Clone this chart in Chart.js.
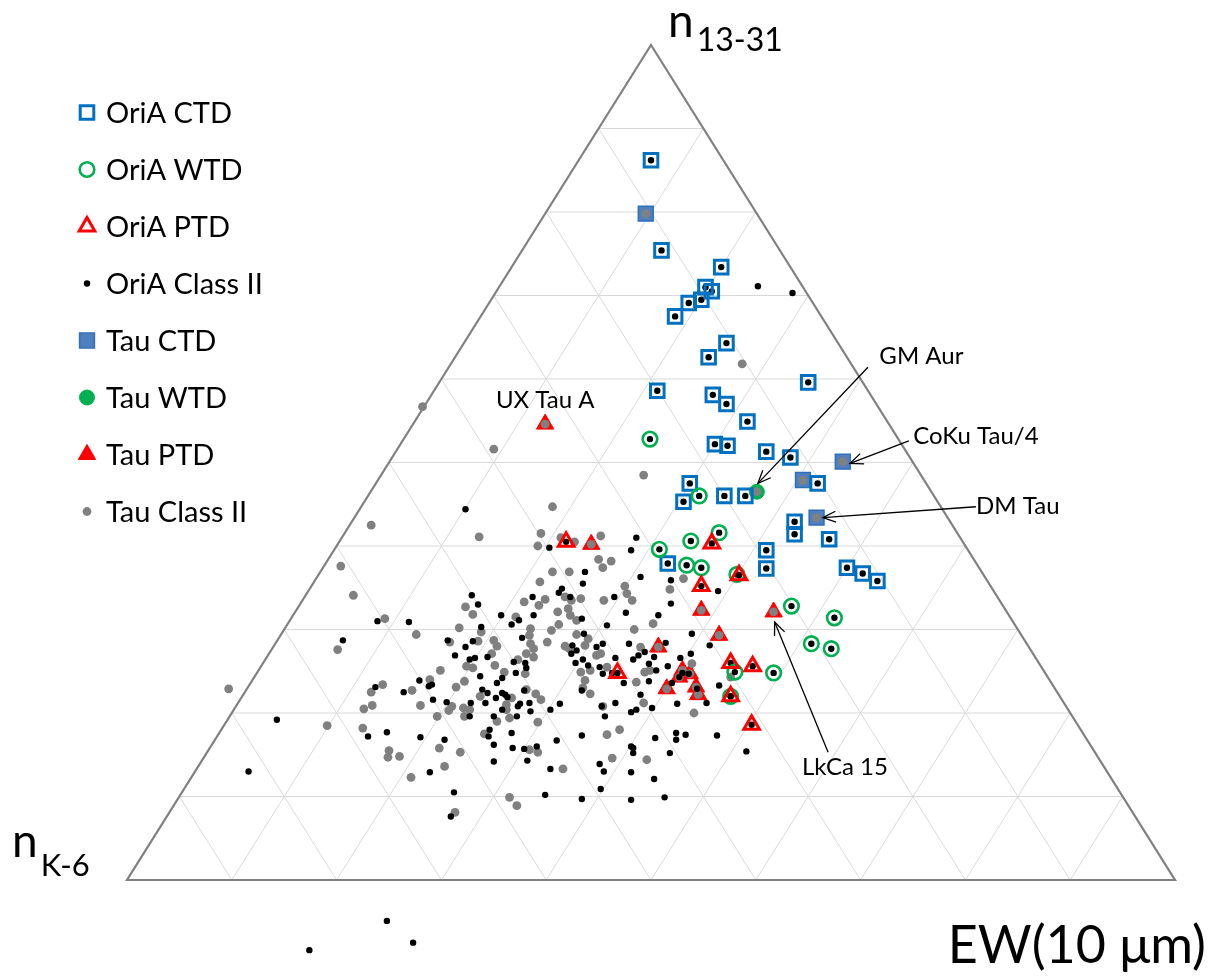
<!DOCTYPE html>
<html><head><meta charset="utf-8">
<script src="https://cdn.jsdelivr.net/npm/chart.js@4/dist/chart.umd.min.js"></script>
<style>html,body{margin:0;padding:0;background:#fff}canvas{display:block}</style>
</head><body>
<canvas id="c" width="1218" height="976"></canvas>
<script>
// ---- data: plot coordinates in % (x along the EW base 0..100, y = n13-31 height 0..100) ----
const categories = ['OriA CTD','OriA WTD','OriA PTD','OriA Class II','Tau CTD','Tau WTD','Tau PTD','Tau Class II'];

const oriaCTD = [[50.0,86.2],[51.0,75.4],[56.7,73.4],[55.2,71.0],[55.8,70.5],[54.8,69.5],[53.6,69.1],[52.3,67.5],[57.2,64.3],[55.5,62.6],[65.0,59.6],[50.6,58.6],[55.9,58.1],[57.2,57.0],[59.2,54.9],[56.1,52.2],[57.3,52.0],[61.0,51.3],[63.3,50.6],[65.9,47.5],[53.7,47.5],[53.1,45.3],[57.0,46.0],[59.0,46.0],[63.7,42.9],[63.7,41.4],[67.0,40.8],[61.0,39.5],[51.6,37.9],[61.0,37.3],[68.7,37.4],[70.2,36.7],[71.6,35.8]];

const oriaWTD = [[49.9,52.8],[54.6,46.0],[56.5,41.6],[53.8,40.6],[50.8,39.6],[53.4,37.7],[54.8,37.4],[58.2,36.6],[63.4,32.8],[67.5,31.4],[65.3,28.3],[67.2,27.7],[58.0,24.9],[61.7,24.8],[57.6,22.0]];

const oriaPTD = [[41.9,40.5],[55.8,40.3],[58.4,36.5],[54.8,35.2],[57.6,26.0],[59.7,25.6],[57.6,22.0],[59.6,18.6],[46.8,24.8]];

const oriaClassII = [[60.2,71.1],[63.5,70.3],[32.3,44.4],[23.9,31.0],[26.9,30.9],[20.6,28.7],[14.3,19.2],[11.6,13.0],[23.7,23.1],[26.4,22.5],[27.9,23.9],[28.8,23.2],[23.0,17.2],[24.8,17.7],[28.0,17.1],[28.9,12.9],[24.8,-4.9],[27.3,-7.5],[17.4,-8.4],
[40.3,39.8],[48.6,41.0],[48.1,39.5],[49.0,36.3],[43.7,36.9],[43.5,35.5],[41.5,34.9],[41.2,34.4],[42.3,33.9],[38.7,33.9],[46.5,33.9],[38.8,31.7],[47.6,32.0],[43.4,31.3],[45.8,30.5],[50.7,31.7],[32.9,34.1],[33.5,33.0],[35.7,31.7],[37.4,31.1],[36.7,30.6],[33.8,30.3],[37.7,29.0],[43.6,29.5],[30.6,28.7],[33.0,28.6],[32.3,27.9],[34.4,26.7],[42.5,28.1],[42.4,27.1],[44.8,27.9],[45.4,28.3],[47.9,28.3],[48.8,26.9],[49.4,27.3],[31.3,26.9],[32.7,26.4],[33.2,26.6],[46.6,26.6],[48.3,26.4],
[33.7,24.4],[36.9,26.1],[38.0,26.0],[38.1,25.4],[37.1,24.8],[35.8,24.2],[35.3,23.6],[29.1,23.4],[29.2,21.6],[30.5,21.3],[32.7,19.6],[32.8,21.2],[33.9,22.8],[34.4,22.4],[34.2,21.2],[35.2,21.8],[35.8,22.4],[36.1,22.2],[36.3,21.9],[37.3,20.8],[37.5,21.1],[35.8,20.4],[37.2,19.6],[35.0,19.6],[37.9,22.7],[38.4,21.2],[38.5,20.2],[40.4,20.4],[41.3,21.1],[34.6,18.0],[34.5,17.2],[36.7,17.6],[35.0,16.2],[36.8,15.8],[37.9,15.7],[39.1,16.0],[38.2,14.3],[35.0,14.2],[41.0,16.7],[40.4,13.3],[30.3,16.8],[31.2,10.5],[30.9,7.6],[39.9,10.2],[43.4,9.7],[45.2,10.9],[48.1,9.6],[51.3,9.9],
[42.9,27.5],[43.5,26.4],[44.0,25.7],[42.8,26.0],[45.1,25.5],[45.4,24.7],[46.3,24.8],[47.4,23.6],[50.5,25.1],[49.8,23.8],[51.6,25.6],[50.3,26.7],[52.0,23.6],[43.4,22.7],[49.0,22.2],[48.6,20.4],[48.1,20.1],[50.1,20.6],[45.3,20.8],[46.6,21.2],[45.6,19.6],[43.4,17.3],[48.1,16.0],[48.3,15.8],[48.3,15.2],[50.4,17.0],[45.1,13.9],[45.5,13.0],[48.1,12.9],[50.3,12.1],[51.8,15.2],[52.4,17.6],[52.4,16.8],[52.5,21.1],[55.3,21.2],[59.1,15.4],[56.3,17.3],[53.3,17.4],[51.9,35.9],[51.9,33.1],[53.9,29.5],[55.6,28.1],[56.4,34.6],[56.5,23.3],[52.8,26.6],[53.8,27.1],[49.8,25.9],[53.0,24.8],[53.6,24.7],[52.7,24.3],[54.4,22.9],[51.4,28.4]];

const tauCTD = [[49.5,79.8],[68.3,50.1],[64.5,47.9],[65.8,43.4]];
const tauWTD = [[60.1,46.5]];
const tauPTD = [[39.9,54.6],[44.3,40.2],[54.8,32.3],[61.7,32.1],[56.5,29.3],[50.7,27.9],[53.0,25.1],[53.7,24.7],[52.7,24.3],[51.5,22.9],[54.3,23.1],[54.5,22.2]];

const tauClassII = [[58.7,61.8],[49.3,48.5],[28.2,56.7],[35.0,51.6],[40.6,44.7],[23.3,42.5],[20.4,37.6],[21.6,34.1],[24.6,31.3],[27.6,29.4],[20.1,27.6],[9.7,22.9],[19.1,18.5],[24.4,23.4],[23.3,22.5],[27.2,22.7],[28.9,24.0],[23.4,20.9],[22.6,20.5],[28.0,20.9],[22.5,18.2],[25.0,15.5],[24.9,14.7],[26.0,14.8],[27.1,12.3],
[33.6,41.1],[39.5,41.5],[39.2,40.0],[41.4,41.0],[42.7,40.5],[45.2,41.2],[45.0,38.4],[45.4,37.4],[46.2,38.2],[40.6,36.9],[42.2,36.9],[39.4,35.7],[47.5,35.2],[41.8,33.9],[42.4,33.5],[43.3,33.7],[39.9,33.6],[37.9,33.3],[39.3,32.9],[45.5,33.5],[47.7,34.3],[48.2,33.5],[42.1,32.5],[41.1,32.1],[42.3,31.7],[42.9,31.1],[41.2,30.6],[48.4,30.0],[50.2,30.7],[32.3,32.7],[33.0,31.8],[37.1,31.5],[31.7,30.2],[33.8,29.7],[38.5,30.1],[38.4,29.3],[40.5,29.9],[42.9,29.4],[44.0,28.9],[40.1,28.5],[38.5,28.3],[38.8,27.7],[35.0,28.7],[35.3,28.0],[30.8,28.5],[33.5,28.6],[34.8,27.1],[41.8,28.0],[42.2,27.7],[45.2,27.1],[43.7,28.1],[49.0,27.9],[37.3,26.4],[38.1,27.1],
[32.4,25.6],[33.0,25.4],[35.1,25.7],[38.8,26.7],[38.0,24.7],[36.0,24.9],[29.9,25.1],[31.4,23.1],[32.2,23.8],[31.0,20.8],[30.7,20.3],[29.6,19.6],[32.1,20.6],[32.2,19.6],[32.7,20.4],[33.7,22.0],[36.7,21.8],[36.2,21.0],[36.2,20.4],[36.5,19.4],[35.3,19.0],[38.1,22.8],[39.0,22.3],[39.5,21.6],[39.2,18.9],[34.1,17.5],[38.4,15.6],[39.2,15.3],[41.6,13.3],[29.8,15.8],[31.8,15.3],[30.3,13.6],[31.3,8.1],[36.5,9.9],[37.2,8.9],[43.3,24.9],[44.2,25.1],[43.7,23.9],[44.8,26.9],[45.8,25.5],[49.4,24.9],[49.9,25.1],[48.6,23.7],[43.5,23.0],[44.2,22.3],[49.3,21.2],[45.4,20.8],[47.0,18.0],[45.8,17.4],[46.3,14.6],[49.6,14.4],[54.1,20.0],[51.8,34.8],[53.1,36.1],[57.6,24.3],[53.9,25.9]];

const gridTicks = [10,20,30,40,50,60,70,80,90];
const axisTitles = {top:['n','13-31'], left:['n','K-6'], right:'EW(10 μm)'};
const annotations = [
  {text:'UX Tau A',   at:[39.9,57.5]},
  {text:'GM Aur',     at:[75.8,62.7], from:[70.7,61.4], to:[60.2,47.5]},
  {text:'CoKu Tau/4', at:[81.0,53.2], from:[74.6,52.6], to:[69.0,49.9]},
  {text:'DM Tau',     at:[85.0,44.7], from:[81.0,44.7], to:[66.4,43.4]},
  {text:'LkCa 15',    at:[68.5,13.5], from:[66.9,15.3], to:[61.8,30.9]}
];

// ---- layout (pixels) ----
const FRAME = {left:127, right:1175, base:880, apex:45, W:1218, H:976};
const pxX = (FRAME.right-FRAME.left)/100, pxY = (FRAME.base-FRAME.apex)/100;
const xMin = -FRAME.left/pxX, xMax = (FRAME.W-FRAME.left)/pxX;
const yMax = FRAME.base/pxY, yMin = -(FRAME.H-FRAME.base)/pxY;
const FONT = 'Lato, "Open Sans", sans-serif';

const styles = {
  'OriA CTD':     {shape:'rect',     r:9.6, fill:'rgba(0,0,0,0)', stroke:'#0070C0', bw:3,   order:2},
  'OriA WTD':     {shape:'circle',   r:7.3, fill:'rgba(0,0,0,0)', stroke:'#00B050', bw:2.6, order:1},
  'OriA PTD':     {shape:'triangle', r:9,   fill:'rgba(0,0,0,0)', stroke:'#FF0000', bw:3,   order:0},
  'OriA Class II':{shape:'circle',   r:3.2, fill:'#000000', stroke:'#000000', bw:0,   order:3},
  'Tau CTD':      {shape:'rect',     r:10.5,fill:'#4F7FBF', stroke:'#2F6FBA', bw:1.5, order:7},
  'Tau WTD':      {shape:'circle',   r:7.5, fill:'#00B050', stroke:'#00B050', bw:1,   order:6},
  'Tau PTD':      {shape:'triangle', r:10,  fill:'#FF0000', stroke:'#FF0000', bw:1,   order:5},
  'Tau Class II': {shape:'circle',   r:4.4, fill:'#808080', stroke:'#808080', bw:0,   order:4}
};
const seriesData = {
  'OriA CTD': oriaCTD, 'OriA WTD': oriaWTD, 'OriA PTD': oriaPTD,
  'OriA Class II': oriaClassII.concat(oriaCTD, oriaWTD, oriaPTD),
  'Tau CTD': tauCTD, 'Tau WTD': tauWTD, 'Tau PTD': tauPTD,
  'Tau Class II': tauClassII.concat(tauCTD, tauWTD, tauPTD)
};

const datasets = categories.map(name => {
  const s = styles[name];
  return {
    label: name,
    data: seriesData[name].map(p => ({x:p[0], y:p[1]})),
    pointStyle: s.shape, pointRadius: s.r, pointHoverRadius: s.r,
    backgroundColor: s.fill, borderColor: s.stroke, borderWidth: s.bw,
    pointBorderWidth: s.bw, order: s.order, clip: false, showLine: false
  };
});

function drawMarker(ctx, s, x, y) {
  ctx.save();
  ctx.beginPath();
  if (s.shape === 'rect') {
    const h = Math.SQRT1_2 * s.r; ctx.rect(x-h, y-h, 2*h, 2*h);
  } else if (s.shape === 'triangle') {
    let a = 0;
    ctx.moveTo(x + Math.sin(a)*s.r, y - Math.cos(a)*s.r);
    a += 2*Math.PI/3; ctx.lineTo(x + Math.sin(a)*s.r, y - Math.cos(a)*s.r);
    a += 2*Math.PI/3; ctx.lineTo(x + Math.sin(a)*s.r, y - Math.cos(a)*s.r);
    ctx.closePath();
  } else {
    ctx.arc(x, y, s.r, 0, Math.PI*2);
  }
  ctx.fillStyle = s.fill; ctx.fill();
  if (s.bw > 0) { ctx.lineWidth = s.bw; ctx.strokeStyle = s.stroke; ctx.stroke(); }
  ctx.restore();
}

const gridPlugin = {
  id: 'ternaryGrid',
  beforeDatasetsDraw(chart) {
    const {ctx, scales:{x, y}} = chart;
    const P = (a, b) => [x.getPixelForValue(a), y.getPixelForValue(b)];
    const seg = (p, q) => { ctx.moveTo(p[0], p[1]); ctx.lineTo(q[0], q[1]); };
    ctx.save();
    ctx.strokeStyle = '#d9d9d9'; ctx.lineWidth = 1;
    ctx.beginPath();
    gridTicks.forEach(t => {
      seg(P(t/2, t), P(100 - t/2, t));          // horizontal
      seg(P(t, 0), P(50 + t/2, 100 - t));       // parallel to left edge
      seg(P(t, 0), P(t/2, t));                  // parallel to right edge
    });
    ctx.stroke();
    ctx.strokeStyle = '#808080'; ctx.lineWidth = 2.2;
    ctx.beginPath();
    const A = P(0,0), B = P(100,0), C = P(50,100);
    ctx.moveTo(A[0],A[1]); ctx.lineTo(B[0],B[1]); ctx.lineTo(C[0],C[1]); ctx.closePath();
    ctx.stroke();
    ctx.restore();
  }
};

const overlayPlugin = {
  id: 'overlay',
  afterDraw(chart) {
    const {ctx, scales:{x, y}} = chart;
    const P = (a, b) => [x.getPixelForValue(a), y.getPixelForValue(b)];
    ctx.save();
    ctx.fillStyle = '#000'; ctx.strokeStyle = '#000';
    // annotations
    ctx.font = '24px ' + FONT; ctx.textAlign = 'center'; ctx.textBaseline = 'middle';
    annotations.forEach(a => {
      const t = P(a.at[0], a.at[1]);
      ctx.fillText(a.text, t[0], t[1]);
      if (a.from) {
        const p = P(a.from[0], a.from[1]), q = P(a.to[0], a.to[1]);
        ctx.lineWidth = 1.3;
        ctx.beginPath(); ctx.moveTo(p[0], p[1]); ctx.lineTo(q[0], q[1]); ctx.stroke();
        const ang = Math.atan2(q[1]-p[1], q[0]-p[0]), L = 14, w = 0.4;
        ctx.beginPath();
        ctx.moveTo(q[0] - L*Math.cos(ang-w), q[1] - L*Math.sin(ang-w));
        ctx.lineTo(q[0], q[1]);
        ctx.lineTo(q[0] - L*Math.cos(ang+w), q[1] - L*Math.sin(ang+w));
        ctx.stroke();
      }
    });
    // axis titles
    ctx.textAlign = 'left'; ctx.textBaseline = 'alphabetic';
    const top = P(50, 100);
    ctx.font = '46px ' + FONT; ctx.fillText(axisTitles.top[0], top[0] + 17, 37);
    const nw = ctx.measureText(axisTitles.top[0]).width;
    ctx.font = '32px ' + FONT; ctx.fillText(axisTitles.top[1], top[0] + 17 + nw + 3, 51);
    ctx.font = '46px ' + FONT; ctx.fillText(axisTitles.left[0], 12, 857);
    ctx.font = '31px ' + FONT; ctx.fillText(axisTitles.left[1], 12 + nw + 3, 876);
    ctx.font = '52px ' + FONT; ctx.textAlign = 'right'; ctx.fillText(axisTitles.right, 1206, 963);
    // legend
    ctx.textAlign = 'left';
    ctx.font = '29px ' + FONT;
    categories.forEach((name, i) => {
      const cy = 112.5 + i * 57;
      drawMarker(ctx, Object.assign({}, styles[name], styles[name].fill === 'rgba(0,0,0,0)' ? {fill:'#fff'} : {}), 87, cy);
      ctx.fillStyle = '#000';
      ctx.fillText(name, 106, cy + 10.5);
    });
    ctx.restore();
  }
};

new Chart(document.getElementById('c'), {
  type: 'scatter',
  data: { datasets },
  options: {
    responsive: false, animation: false, events: [],
    layout: { padding: 0, autoPadding: false },
    plugins: { legend: { display: false }, tooltip: { enabled: false } },
    scales: {
      x: { type: 'linear', min: xMin, max: xMax, display: false },
      y: { type: 'linear', min: yMin, max: yMax, display: false }
    }
  },
  plugins: [gridPlugin, overlayPlugin]
});
</script>
</body></html>
